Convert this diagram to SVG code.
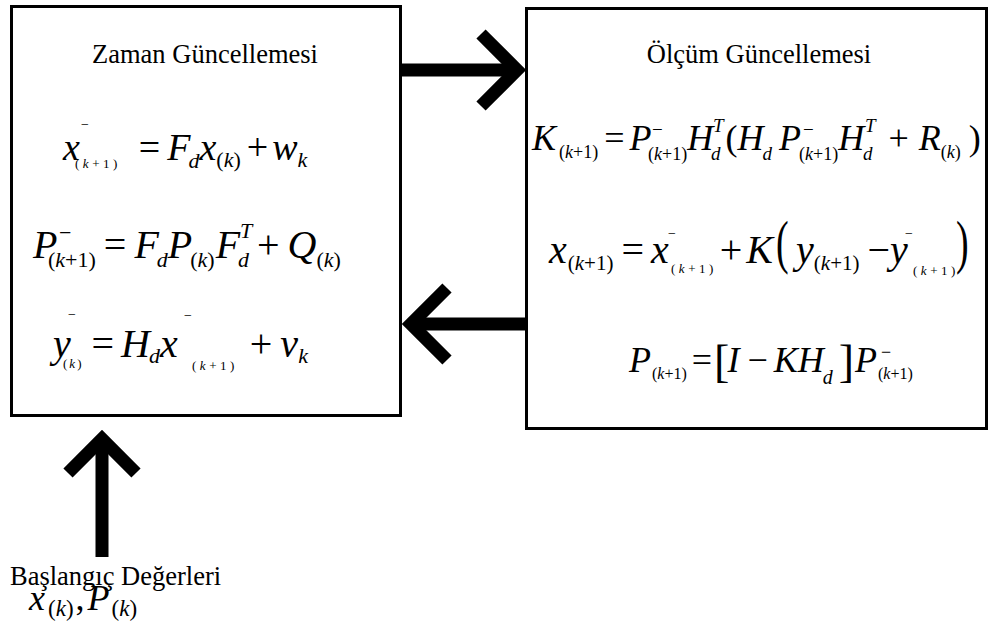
<svg xmlns="http://www.w3.org/2000/svg" width="990" height="640" viewBox="0 0 990 640">
<style>
.box{fill:#fff;stroke:#000;stroke-width:3}
.arr{fill:none;stroke:#000;stroke-width:13;stroke-linejoin:miter;stroke-miterlimit:10}
.t{font-family:"Liberation Serif","Times New Roman",serif;font-size:26.5px;fill:#000}
.eq{font-family:"Liberation Serif","Times New Roman",serif;fill:#000}
.i{font-style:italic}
.ts{font-size:13px;letter-spacing:3.5px}
.ts2{font-size:13px;letter-spacing:2px}
.mn{font-size:14px}
</style>
<rect width="990" height="640" fill="#fff"/>
<g id="zaman">
<rect class="box" x="11.5" y="6.5" width="389" height="409"/>
<text class="t" x="205" y="63" text-anchor="middle">Zaman Güncellemesi</text>
<text class="eq" font-size="38">
<tspan class="i" x="63" y="160">x</tspan><tspan class="mn" x="81" y="129">−</tspan><tspan class="ts" x="75" y="168">(<tspan class="i">k</tspan>+1)</tspan><tspan y="160" dx="18">=</tspan><tspan class="i" y="160" dx="7">F</tspan><tspan class="i" font-size="22" y="168" dx="-2">d</tspan><tspan class="i" y="160">x</tspan><tspan font-size="22" y="167">(<tspan class="i">k</tspan>)</tspan><tspan y="160" dx="6">+</tspan><tspan class="i" y="160" dx="4">w</tspan><tspan class="i" font-size="22" y="167">k</tspan>
</text>
<text class="eq" font-size="40">
<tspan class="i" x="33" y="258">P</tspan><tspan font-size="22" x="59" y="240">−</tspan><tspan font-size="22" x="48" y="267">(<tspan class="i">k</tspan>+1)</tspan><tspan y="258" dx="8">=</tspan><tspan class="i" y="258" dx="8">F</tspan><tspan class="i" font-size="22" y="267" dx="-2">d</tspan><tspan class="i" y="258">P</tspan><tspan font-size="22" y="267" dx="-2">(<tspan class="i">k</tspan>)</tspan><tspan class="i" y="258" dx="1">F</tspan><tspan class="i" font-size="22" x="240" y="238">T</tspan><tspan class="i" font-size="22" x="238" y="267">d</tspan><tspan y="258" dx="8">+</tspan><tspan class="i" y="258" dx="8">Q</tspan><tspan font-size="22" y="267">(<tspan class="i">k</tspan>)</tspan>
</text>
<text class="eq" font-size="40">
<tspan class="i" x="53" y="357">y</tspan><tspan class="mn" x="68" y="319">−</tspan><tspan class="ts2" x="63" y="368">(<tspan class="i">k</tspan>)</tspan><tspan y="357" dx="8">=</tspan><tspan class="i" y="357" dx="7">H</tspan><tspan class="i" font-size="22" y="363" dx="-1">d</tspan><tspan class="i" y="357">x</tspan><tspan class="mn" x="184" y="320">−</tspan><tspan class="ts" x="192" y="370">(<tspan class="i">k</tspan>+1)</tspan><tspan y="357" dx="12">+</tspan><tspan class="i" y="357" dx="8">v</tspan><tspan class="i" font-size="22" y="363">k</tspan>
</text>
</g>
<g id="olcum">
<rect class="box" x="526.5" y="8.5" width="460" height="420"/>
<text class="t" x="759" y="63" text-anchor="middle">Ölçüm Güncellemesi</text>
<text class="eq" font-size="36">
<tspan class="i" x="532" y="150">K</tspan><tspan font-size="18" y="158" dx="3">(<tspan class="i">k</tspan>+1)</tspan><tspan y="150" dx="6">=</tspan><tspan class="i" y="150" dx="5">P</tspan><tspan font-size="19" x="652" y="136">−</tspan><tspan font-size="18" x="648" y="160">(<tspan class="i">k</tspan>+1)</tspan><tspan class="i" y="150">H</tspan><tspan class="i" font-size="19" x="713" y="132">T</tspan><tspan class="i" font-size="19" x="711" y="160">d</tspan><tspan y="150" dx="5">(</tspan><tspan class="i" y="150">H</tspan><tspan class="i" font-size="19" y="160" dx="-1">d</tspan><tspan class="i" y="150" dx="7">P</tspan><tspan font-size="19" x="803" y="136">−</tspan><tspan font-size="18" x="799" y="160">(<tspan class="i">k</tspan>+1)</tspan><tspan class="i" y="150">H</tspan><tspan class="i" font-size="19" x="865" y="132">T</tspan><tspan class="i" font-size="19" x="863" y="160">d</tspan><tspan y="150" dx="16">+</tspan><tspan class="i" y="150" dx="10">R</tspan><tspan font-size="18" y="158">(<tspan class="i">k</tspan>)</tspan><tspan y="150" dx="8">)</tspan>
</text>
<text class="eq" font-size="40">
<tspan class="i" x="549" y="263">x</tspan><tspan font-size="21" y="270" dx="1">(<tspan class="i">k</tspan>+1)</tspan><tspan y="263" dx="8">=</tspan><tspan class="i" y="263" dx="7">x</tspan><tspan class="mn" x="668" y="238">−</tspan><tspan class="ts" x="671" y="273">(<tspan class="i">k</tspan>+1)</tspan><tspan y="263" dx="3">+</tspan><tspan class="i" y="263" dx="4">K</tspan><tspan class="i" y="263" dx="23">y</tspan><tspan font-size="21" y="270">(<tspan class="i">k</tspan>+1)</tspan><tspan y="263" dx="8">−</tspan><tspan class="i" y="263">y</tspan><tspan class="mn" x="905" y="238">−</tspan><tspan class="ts" x="913" y="275">(<tspan class="i">k</tspan>+1)</tspan>
</text>
<text class="eq" font-size="38" transform="translate(776,262) scale(1,1.55)">(</text>
<text class="eq" font-size="38" transform="translate(956,262) scale(1,1.55)">)</text>
<text class="eq" font-size="36">
<tspan class="i" x="629" y="372">P</tspan><tspan font-size="16" y="379" dx="1">(<tspan class="i">k</tspan>+1)</tspan><tspan y="372" dx="5">=</tspan><tspan font-size="46" y="377" dx="2">[</tspan><tspan class="i" y="372" dx="-2">I</tspan><tspan y="372" dx="8">−</tspan><tspan class="i" y="372" dx="6">K</tspan><tspan class="i" y="372">H</tspan><tspan class="i" font-size="20" y="384" dx="-1">d</tspan><tspan font-size="46" y="377" dx="6">]</tspan><tspan class="i" y="372" dx="1">P</tspan><tspan font-size="18" x="881" y="358">−</tspan><tspan font-size="16" x="878" y="379">(<tspan class="i">k</tspan>+1)</tspan>
</text>
</g>
<g id="baslangic">
<text class="t" x="10" y="585" font-size="27.3">Başlangıç Değerleri</text>
<text class="eq" font-size="36">
<tspan class="i" x="29" y="610">x</tspan><tspan font-size="23" y="616" dx="3">(<tspan class="i">k</tspan>)</tspan><tspan y="610" dx="2">,</tspan><tspan class="i" y="610" dx="3">P</tspan><tspan font-size="23" y="616" dx="2">(<tspan class="i">k</tspan>)</tspan>
</text>
</g>
<g id="connectors">
<path class="arr" d="M401 70H514"/>
<path class="arr" d="M481 34L517 70L481 106"/>
<path class="arr" d="M526 324H414"/>
<path class="arr" d="M447 288L411 324L447 360"/>
<path class="arr" d="M102 557V442"/>
<path class="arr" d="M68 473L102 439L136 473"/>
</g>
</svg>
